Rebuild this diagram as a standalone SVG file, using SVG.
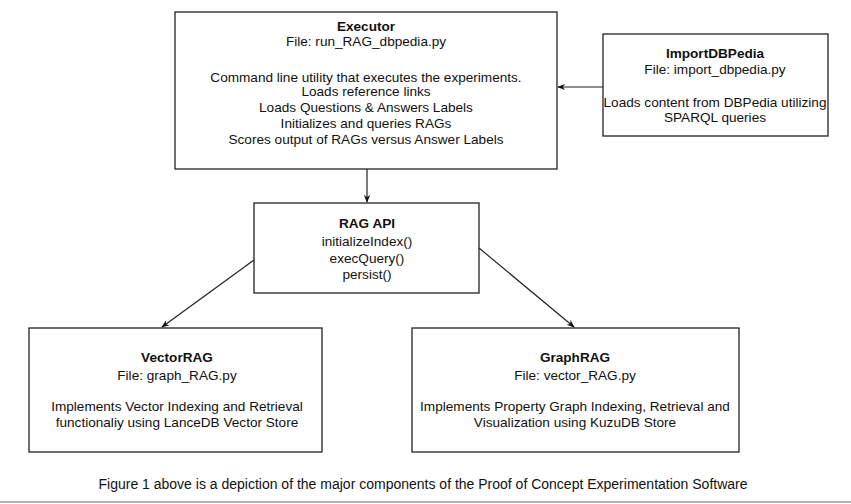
<svg xmlns="http://www.w3.org/2000/svg" width="851" height="504" viewBox="0 0 851 504">
<style>
.box{fill:#fff;stroke:#222;stroke-width:1.3}
text{font-family:"Liberation Sans",Arial,sans-serif;font-size:13.6px;fill:#111;text-anchor:middle}
.b{font-weight:bold}
.cap{font-size:14px}
.edge{stroke:#222;stroke-width:1.2;fill:none;marker-end:url(#ah)}
</style>
<defs>
<marker id="ah" viewBox="0 0 10 10" refX="9" refY="5" markerWidth="8" markerHeight="8" markerUnits="userSpaceOnUse" orient="auto">
<path d="M0,1 L10,5 L0,9 L3,5 Z" fill="#111"/>
</marker>
</defs>
<rect width="851" height="504" fill="#fff"/>
<g id="executor">
<rect class="box" x="175" y="12" width="382" height="157"/>
<text class="b" x="366" y="31">Executor</text>
<text x="366" y="46">File: run_RAG_dbpedia.py</text>
<text x="366" y="82">Command line utility that executes the experiments.</text>
<text x="366" y="96">Loads reference links</text>
<text x="366" y="112">Loads Questions &amp; Answers Labels</text>
<text x="366" y="128">Initializes and queries RAGs</text>
<text x="366" y="144">Scores output of RAGs versus Answer Labels</text>
</g>
<g id="importdbpedia">
<rect class="box" x="603" y="34" width="225" height="102"/>
<text class="b" x="715" y="58">ImportDBPedia</text>
<text x="715" y="74">File: import_dbpedia.py</text>
<text x="715" y="107">Loads content from DBPedia utilizing</text>
<text x="715" y="122">SPARQL queries</text>
</g>
<g id="ragapi">
<rect class="box" x="254" y="203" width="225" height="90"/>
<text class="b" x="367" y="228">RAG API</text>
<text x="367" y="246">initializeIndex()</text>
<text x="367" y="263">execQuery()</text>
<text x="367" y="279">persist()</text>
</g>
<g id="vectorrag">
<rect class="box" x="29" y="328" width="293" height="124"/>
<text class="b" x="177" y="362">VectorRAG</text>
<text x="177" y="380">File: graph_RAG.py</text>
<text x="177" y="411">Implements Vector Indexing and Retrieval</text>
<text x="177" y="427">functionaliy using LanceDB Vector Store</text>
</g>
<g id="graphrag">
<rect class="box" x="412" y="328" width="327" height="124"/>
<text class="b" x="575" y="362">GraphRAG</text>
<text x="575" y="380">File: vector_RAG.py</text>
<text x="575" y="411">Implements Property Graph Indexing, Retrieval and</text>
<text x="575" y="427">Visualization using KuzuDB Store</text>
</g>
<g id="connectors">
<line class="edge" x1="603" y1="87" x2="558" y2="87"/>
<line class="edge" x1="367" y1="169" x2="367" y2="202"/>
<line class="edge" x1="254" y1="260" x2="162" y2="327"/>
<line class="edge" x1="479" y1="248" x2="574" y2="327"/>
</g>
<g id="caption">
<text class="cap" x="423" y="489">Figure 1 above is a depiction of the major components of the Proof of Concept Experimentation Software</text>
<line x1="0" y1="502" x2="851" y2="502" stroke="#999" stroke-width="1.5"/>
</g>
</svg>
